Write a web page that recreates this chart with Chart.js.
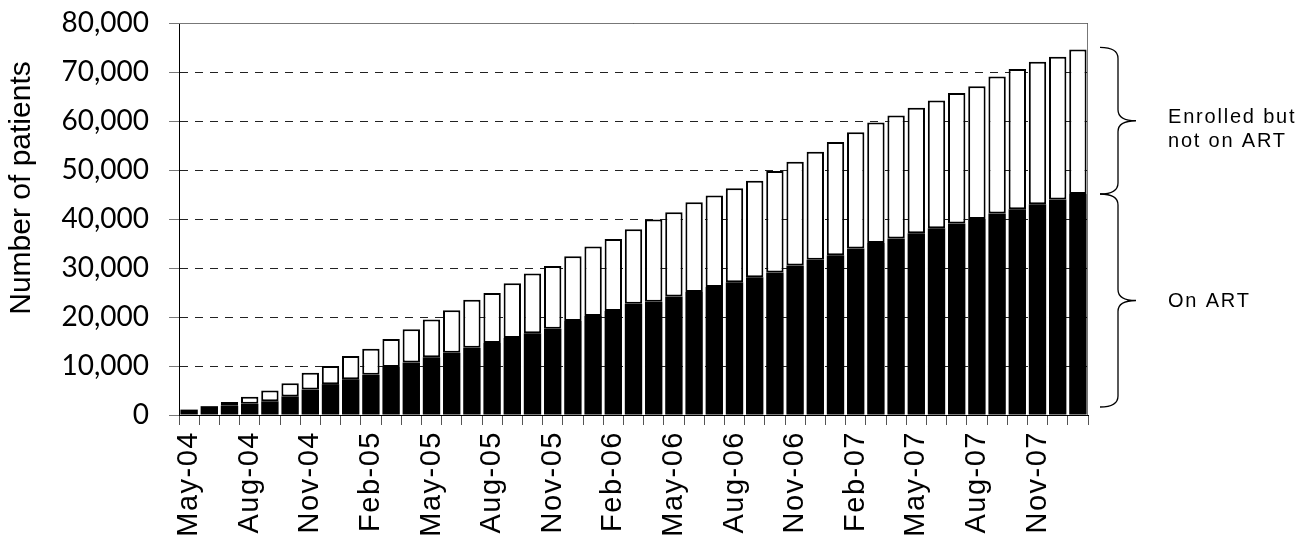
<!DOCTYPE html>
<html>
<head>
<meta charset="utf-8">
<script src="https://cdn.jsdelivr.net/npm/chart.js@4/dist/chart.umd.min.js"></script>
<style>
  body { margin: 0; background: #fff; }
</style>
</head>
<body>
<canvas id="grafico" width="1309" height="544"></canvas>
<script>
// Meses (eje x), uno por barra
const meses = [
  'May-04','Jun-04','Jul-04','Aug-04','Sep-04','Oct-04','Nov-04','Dec-04',
  'Jan-05','Feb-05','Mar-05','Apr-05','May-05','Jun-05','Jul-05','Aug-05','Sep-05','Oct-05','Nov-05','Dec-05',
  'Jan-06','Feb-06','Mar-06','Apr-06','May-06','Jun-06','Jul-06','Aug-06','Sep-06','Oct-06','Nov-06','Dec-06',
  'Jan-07','Feb-07','Mar-07','Apr-07','May-07','Jun-07','Jul-07','Aug-07','Sep-07','Oct-07','Nov-07','Dec-07',
  'Jan-08'
];

// Pacientes en tratamiento (parte negra)
const enART = [
  1100, 1800, 1900, 2300, 2800, 3800, 5200, 6300, 7300, 8200,
  9800, 10700, 11800, 12700, 13700, 14700, 15700, 16700, 17600, 19200,
  20200, 21200, 22700, 23100, 24200, 25100, 26100, 27100, 28100, 29100,
  30500, 31700, 32600, 34000, 35100, 36000, 37100, 38100, 39100, 40000,
  41100, 42000, 43000, 44000, 45100
];

// Inscritos pero sin tratamiento (parte blanca, encima)
const sinART = [
  0, 0, 750, 1400, 2200, 2700, 3400, 3700, 4750, 5300,
  5700, 6800, 7700, 8700, 9800, 10200, 11200, 12200, 12800, 13200,
  14200, 14700, 15200, 16800, 17200, 18300, 18700, 19200, 19700, 20700,
  21200, 22000, 23100, 23700, 24600, 25100, 25600, 26100, 26600, 27100,
  28000, 28600, 29100, 29100, 29500
];

const ticksY = [0, 10000, 20000, 30000, 40000, 50000, 60000, 70000, 80000];

const tituloY = 'Number of patients';
const textoArriba = ['Enrolled but', 'not on ART'];
const textoAbajo = 'On ART';

// Dibuja una llave vertical "}"
function llave(ctx, x, y1, y2, ancho) {
  const medio = (y1 + y2) / 2;
  const r = 11;
  const xc = x + ancho / 2;
  ctx.beginPath();
  ctx.moveTo(x, y1);
  ctx.quadraticCurveTo(xc, y1, xc, y1 + r);
  ctx.lineTo(xc, medio - r);
  ctx.quadraticCurveTo(xc, medio, x + ancho, medio);
  ctx.quadraticCurveTo(xc, medio, xc, medio + r);
  ctx.lineTo(xc, y2 - r);
  ctx.quadraticCurveTo(xc, y2, x, y2);
  ctx.stroke();
}

const marcoYLlaves = {
  id: 'marcoYLlaves',
  afterDatasetsDraw(chart) {
    // las etiquetas del eje x (z: 1) salen algo espaciadas, como en el original
    chart.ctx.letterSpacing = '1.5px';
  },
  afterDraw(chart) {
    const ctx = chart.ctx;
    const area = chart.chartArea;
    const y = chart.scales.y;
    ctx.save();
    ctx.letterSpacing = '0px';

    // borde superior y derecho del area
    ctx.strokeStyle = '#777';
    ctx.lineWidth = 1;
    ctx.beginPath();
    ctx.moveTo(area.left, area.top + 0.5);
    ctx.lineTo(area.right - 0.5, area.top + 0.5);
    ctx.lineTo(area.right - 0.5, area.bottom);
    ctx.stroke();

    // titulo del eje y, algo por encima del centro
    ctx.fillStyle = '#000';
    ctx.font = '30px "Liberation Sans", Arial, sans-serif';
    ctx.textAlign = 'center';
    ctx.textBaseline = 'middle';
    ctx.translate(22, area.top + 165);
    ctx.rotate(-Math.PI / 2);
    ctx.fillText(tituloY, 0, 0);
    ctx.setTransform(1, 0, 0, 1, 0, 0);

    // llaves a partir de la ultima barra
    const n = enART.length - 1;
    const yTotal = y.getPixelForValue(enART[n] + sinART[n]);
    const yArt = y.getPixelForValue(enART[n]);
    const yCero = y.getPixelForValue(0) - 8;
    const xLlave = area.right + 12;
    ctx.strokeStyle = '#000';
    ctx.lineWidth = 1.3;
    llave(ctx, xLlave, yTotal - 2, yArt, 36);
    llave(ctx, xLlave, yArt, yCero, 36);

    ctx.font = '20px "Liberation Sans", Arial, sans-serif';
    ctx.letterSpacing = '1.8px';
    ctx.textAlign = 'left';
    const punta1 = (yTotal - 2 + yArt) / 2;
    const punta2 = (yArt + yCero) / 2;
    ctx.fillText(textoArriba[0], xLlave + 68, punta1 - 3);
    ctx.fillText(textoArriba[1], xLlave + 68, punta1 + 21);
    ctx.fillText(textoAbajo, xLlave + 68, punta2 + 1);
    ctx.restore();
    ctx.letterSpacing = '0px';
  }
};

const config = {
  type: 'bar',
  data: {
    labels: meses,
    datasets: [
      {
        label: 'On ART',
        data: enART,
        backgroundColor: '#000',
        borderWidth: 0,
        barPercentage: 0.86,
        categoryPercentage: 1
      },
      {
        label: 'Enrolled but not on ART',
        data: sinART,
        backgroundColor: '#fff',
        borderColor: '#000',
        borderWidth: 2,
        borderSkipped: false,
        barPercentage: 0.86,
        categoryPercentage: 1
      }
    ]
  },
  options: {
    responsive: false,
    animation: false,
    layout: { padding: { top: 23, right: 221, left: 0, bottom: 0 } },
    plugins: {
      legend: { display: false },
      tooltip: { enabled: false }
    },
    scales: {
      x: {
        stacked: true,
        border: { color: '#000', width: 1 },
        grid: {
          drawOnChartArea: false,
          drawTicks: true,
          tickLength: 10,
          color: '#555'
        },
        ticks: {
          z: 1,
          autoSkip: false,
          maxRotation: 90,
          minRotation: 90,
          padding: 6,
          color: '#000',
          font: { family: '"Liberation Sans", Arial, sans-serif', size: 29 },
          callback: (v, i) => (i % 3 === 0 ? meses[i] : '')
        },
        afterFit: (scale) => { scale.height = 129; }
      },
      y: {
        stacked: true,
        min: 0,
        max: 80000,
        afterBuildTicks: (scale) => { scale.ticks = ticksY.map((v) => ({ value: v })); },
        border: { color: '#000', width: 1, dash: [8, 7] },
        grid: {
          color: '#222',
          lineWidth: 1,
          tickBorderDash: [],
          tickColor: '#777',
          tickLength: 10
        },
        ticks: {
          padding: 20,
          color: '#000',
          font: { family: 'Lato, "Open Sans", sans-serif', size: 28 },
          callback: (v) => v.toLocaleString('en-US')
        },
        afterFit: (scale) => {
          scale.width = 179;
          // sin esto el padding de las etiquetas empuja el area hacia abajo
          scale.paddingTop = 0;
          scale.paddingBottom = 0;
        }
      }
    }
  },
  plugins: [marcoYLlaves]
};

const grafico = new Chart(document.getElementById('grafico'), config);
</script>
</body>
</html>
